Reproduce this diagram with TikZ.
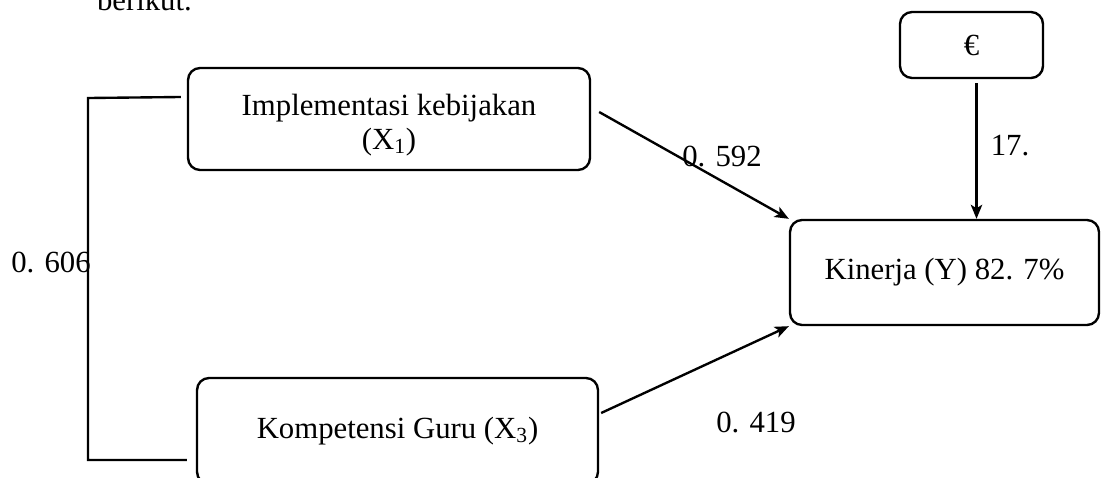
\documentclass[tikz,border=0pt]{standalone}
\usepackage{fontspec}
\setmainfont{Liberation Serif}
\usetikzlibrary{arrows.meta}

\begin{document}
\begin{tikzpicture}[x=0.02cm,y=0.02cm,>={Stealth[length=8pt,width=6.5pt,inset=2pt]},line width=1.35pt,
   font=\fontsize{17.5}{19}\selectfont,
   box/.style={draw,rounded corners=0.24cm,align=center,inner sep=0pt}]
   \useasboundingbox (0,0) rectangle (1101,-477);
   \node[anchor=base west] (txt) at (90,-10) {berikut.};

   \node[box,minimum width=8.04cm,minimum height=2.04cm] (x1) at (389,-119) {\rule{0pt}{19pt}Implementasi kebijakan\\(X\textsubscript{1})};
   \node[box,minimum width=8.02cm,minimum height=2.12cm] (x3) at (397.5,-431) {Kompetensi Guru (X\textsubscript{3})};
   \node[box,minimum width=6.18cm,minimum height=2.1cm]  (y)  at (944.5,-272.5) {Kinerja (Y) 82. 7\%};
   \node[box,minimum width=2.86cm,minimum height=1.32cm] (eps) at (971.5,-45) {€};

   % correlation bracket
   \coordinate (brktop) at ([shift={(-6,22)}]x1.west);
   \coordinate (brkbot) at ([shift={(-9,-29)}]x3.west);
   \draw (brktop) -- (88,-98) -- (88,-460) -- (brkbot);
   \node (r13) at (51,-262) {0. 606};

   \coordinate (epsfoot) at ([shift={(5,-4)}]eps.south);
   \path[->] ([shift={(8,7)}]x1.east) edge (y.north west)
             ([shift={(2,18)}]x3.east) edge (y.south west)
             (epsfoot) edge (epsfoot |- y.north);

   \node (p1)  at (722,-156) {0. 592};
   \node (p3)  at (756,-422) {0. 419};
   \node (pe)  at (1010,-146) {17.};
\end{tikzpicture}
\end{document}
